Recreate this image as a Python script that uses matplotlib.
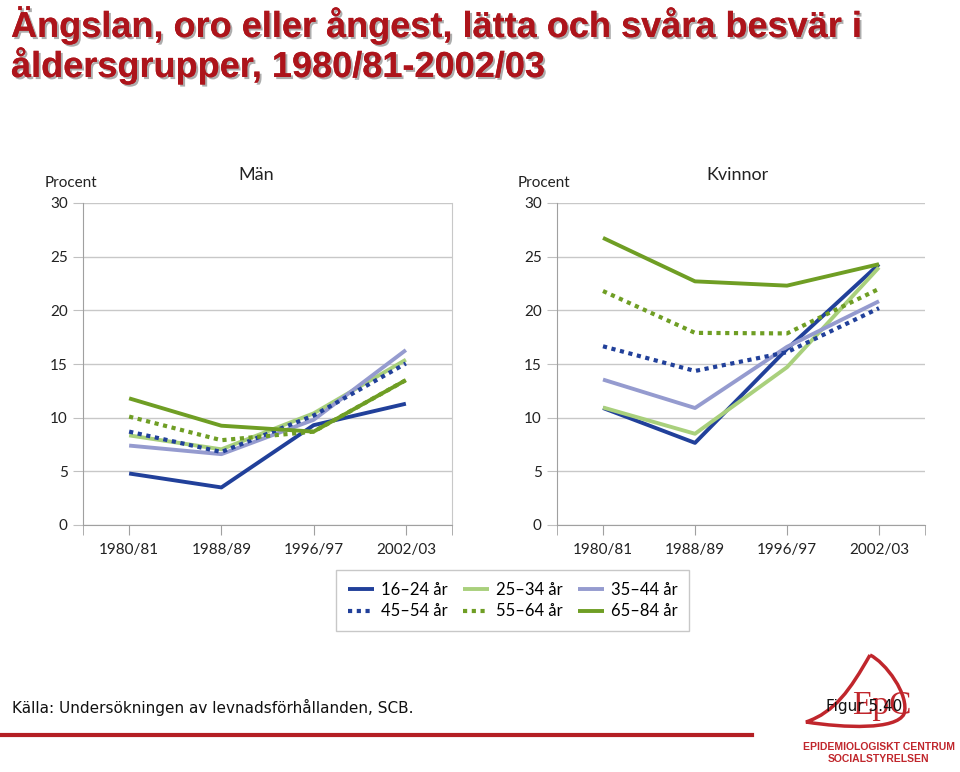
import matplotlib
matplotlib.use("Agg")
import matplotlib.pyplot as plt
import matplotlib.patheffects as pe
from matplotlib.path import Path
from matplotlib.patches import PathPatch

# data
years = ["1980/81", "1988/89", "1996/97", "2002/03"]
groups = ["16–24 år", "25–34 år", "35–44 år", "45–54 år", "55–64 år", "65–84 år"]

man_16_24 = [4.8, 3.5, 9.3, 11.3]
man_25_34 = [8.35, 7.05, 10.4, 15.4]
man_35_44 = [7.4, 6.6, 9.8, 16.3]
man_45_54 = [8.7, 6.8, 10.2, 15.05]
man_55_64 = [10.1, 7.9, 8.7, 13.5]
man_65_84 = [11.8, 9.25, 8.7, 13.5]

kv_16_24 = [10.9, 7.65, 16.4, 24.3]
kv_25_34 = [10.95, 8.5, 14.7, 24.0]
kv_35_44 = [13.55, 10.9, 16.6, 20.85]
kv_45_54 = [16.65, 14.35, 16.1, 20.2]
kv_55_64 = [21.8, 17.9, 17.85, 22.0]
kv_65_84 = [26.75, 22.7, 22.3, 24.3]

colors = ["#21409a", "#a9d07c", "#959bcf", "#21409a", "#6f9e24", "#6f9e24"]
styles = ["-", "-", "-", ":", ":", "-"]

plt.rcParams["font.family"] = ["Lato", "DejaVu Sans"]

W, H = 960, 772
fig = plt.figure(figsize=(9.6, 7.72), dpi=100)


def fx(px):
    return px / W


def fy(py):
    return 1 - py / H


# title with shadow
title_color = "#ad141b"
shadow = [pe.withSimplePatchShadow(offset=(1.5, -1.5), shadow_rgbFace="#999999", alpha=0.8), pe.Normal()]
fig.text(fx(11), fy(37), "Ängslan, oro eller ångest, lätta och svåra besvär i",
         fontsize=26, fontweight="bold", color=title_color, family="Liberation Sans",
         path_effects=shadow)
fig.text(fx(11), fy(77), "åldersgrupper, 1980/81-2002/03",
         fontsize=26, fontweight="bold", color=title_color, family="Liberation Sans",
         path_effects=shadow)

panels = [
    ("Män", [man_16_24, man_25_34, man_35_44, man_45_54, man_55_64, man_65_84], 83, 452, 45, 256),
    ("Kvinnor", [kv_16_24, kv_25_34, kv_35_44, kv_45_54, kv_55_64, kv_65_84], 557, 925, 518, 737),
]

lines = []
for name, series, x0, x1, px, tx in panels:
    ax = fig.add_axes([fx(x0), fy(525), (x1 - x0) / W, (525 - 203) / H])
    for s, c, ls in zip(series, colors, styles):
        if ls == ":":
            ln, = ax.plot(range(len(years)), s, color=c, lw=3, ls=(0, (1, 1.1)))
        else:
            ln, = ax.plot(range(len(years)), s, color=c, lw=2.8, solid_capstyle="butt")
        if name == "Män":
            lines.append(ln)
    ax.set_xlim(-0.5, 3.5)
    ax.set_ylim(0, 30)
    ax.set_yticks(range(0, 31, 5))
    ax.set_xticks(range(len(years)))
    ax.set_xticklabels(years)
    ax.set_xticks([-0.5, 3.5], minor=True)
    ax.grid(axis="y", color="#c8c8c8", lw=1)
    ax.set_axisbelow(True)
    for sp in ["top", "right"]:
        ax.spines[sp].set_visible(False)
    if name == "Män":
        ax.spines["right"].set_visible(True)
        ax.spines["right"].set_color("#c8c8c8")
    ax.spines["left"].set_color("#a0a0a0")
    ax.spines["bottom"].set_color("#a0a0a0")
    ax.tick_params(axis="y", length=7, labelsize=11, pad=4, colors="#222222")
    ax.tick_params(axis="y", color="#c0c0c0")
    ax.tick_params(axis="x", which="both", length=7, direction="out", color="#a0a0a0")
    ax.tick_params(axis="x", labelsize=11, pad=6, labelcolor="#222222")
    fig.text(fx(px), fy(183), "Procent", fontsize=11, ha="left", va="center", color="#222222")
    fig.text(fx(tx), fy(175), name, fontsize=13, ha="center", va="center", color="#222222")

# legend: row-wise ordering
order = [0, 3, 1, 4, 2, 5]
leg = fig.legend([lines[i] for i in order], [groups[i] for i in order], ncol=3,
                 loc="upper left", bbox_to_anchor=(fx(336), fy(570)), borderaxespad=0,
                 fontsize=12, frameon=True, fancybox=False, edgecolor="#bbbbbb",
                 handlelength=1.6, columnspacing=0.9, handletextpad=0.4, labelspacing=0.35,
                 borderpad=0.7)
leg.get_frame().set_linewidth(1)

# footer
fig.add_artist(plt.Line2D([0, fx(752)], [fy(735), fy(735)], color="#b41f24", lw=3))

# logo (rough teardrop outline)
red = "#c0262c"
pts = [(870, 655), (885, 662), (910, 695), (904, 714),
       (896, 730), (845, 728), (806, 722),
       (835, 712), (850, 690), (870, 655)]
codes = [Path.MOVETO, Path.CURVE4, Path.CURVE4, Path.CURVE4,
         Path.CURVE4, Path.CURVE4, Path.CURVE4,
         Path.CURVE4, Path.CURVE4, Path.CURVE4]
logo = Path([(fx(a), fy(b)) for a, b in pts], codes)
fig.add_artist(PathPatch(logo, facecolor="none", edgecolor=red, lw=2.5,
                         transform=fig.transFigure))
fig.text(fx(882), fy(706), "EpC", fontsize=24, color=red, ha="center",
         va="center", family="Liberation Serif")
fig.text(fx(879), fy(747), "EPIDEMIOLOGISKT CENTRUM", fontsize=7.5, color=red,
         ha="center", va="center", fontweight="bold", family="Liberation Sans")
fig.text(fx(879), fy(759), "SOCIALSTYRELSEN", fontsize=7.5, color=red,
         ha="center", va="center", fontweight="bold", family="Liberation Sans")

fig.text(fx(12), fy(707), "Källa: Undersökningen av levnadsförhållanden, SCB.",
         fontsize=11, family="DejaVu Sans", va="center", color="#111111")
fig.text(fx(826), fy(707), "Figur 5.40", fontsize=11, family="DejaVu Sans",
         va="center", color="#111111", zorder=10)

fig.savefig("out.png", dpi=100)
